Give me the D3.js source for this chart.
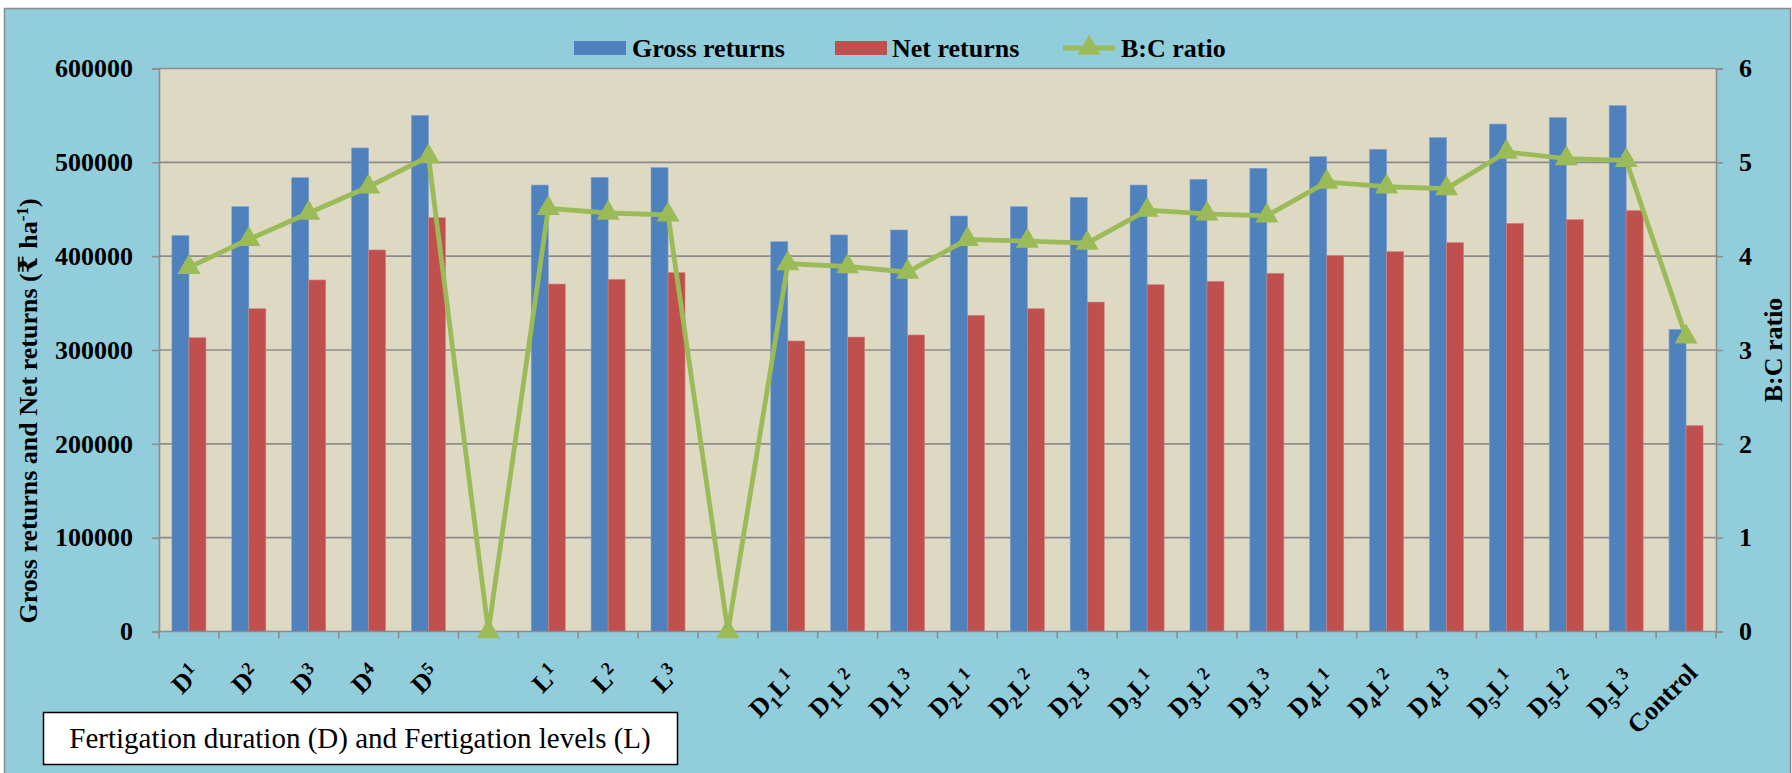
<!DOCTYPE html>
<html>
<head>
<meta charset="utf-8">
<script src="https://cdn.jsdelivr.net/npm/d3@7"></script>
<style>
  body { margin: 0; background: #fff; }
  svg { display: block; }
  text { font-family: "Liberation Serif", "Times New Roman", "DejaVu Serif", serif; }
</style>
</head>
<body>
<svg id="chart"></svg>
<script>
// categories on the x axis ("" = empty slot in the original chart)
const categories = ["D1", "D2", "D3", "D4", "D5", "", "L1", "L2", "L3", "",
    "D1L1", "D1L2", "D1L3", "D2L1", "D2L2", "D2L3", "D3L1", "D3L2", "D3L3",
    "D4L1", "D4L2", "D4L3", "D5L1", "D5L2", "D5L3", "Control"];

const grossReturns = [422000, 452700, 483600, 515300, 550000, null, 475800, 484000, 494300, null,
    415400, 422600, 427900, 442800, 452700, 462700, 475800, 481900, 493600,
    506000, 513900, 526300, 540800, 547600, 560400, 322000];

const netReturns = [313100, 344000, 374600, 406600, 441000, null, 370300, 375300, 382400, null,
    309600, 313800, 316000, 337000, 344000, 351100, 369600, 373200, 381700,
    400500, 404800, 414400, 435000, 438900, 448500, 219400];

const bcRatio = [3.88, 4.18, 4.46, 4.74, 5.06, 0, 4.51, 4.46, 4.44, 0,
    3.92, 3.89, 3.83, 4.18, 4.16, 4.14, 4.49, 4.45, 4.43,
    4.79, 4.74, 4.72, 5.11, 5.04, 5.02, 3.14];

const leftTicks = [0, 100000, 200000, 300000, 400000, 500000, 600000];
const rightTicks = [0, 1, 2, 3, 4, 5, 6];

const W = 1792, H = 773;
const plot = { left: 159, right: 1716, top: 68.5, bottom: 631.5 };

const colors = {
    gross: "#4F81BD",
    net: "#C0504D",
    bc: "#9BBB59",
    chartBg: "#92CDDC",
    plotBg: "#DDD9C3",
    grid: "#8C8C8C"
};

const svg = d3.select("#chart").attr("width", W).attr("height", H);

// chart area background + frame
svg.append("rect")
    .attr("x", 4.5).attr("y", 8.5)
    .attr("width", 1786).attr("height", 780)
    .attr("fill", colors.chartBg)
    .attr("stroke", "#8a8a8a").attr("stroke-width", 1.5);

svg.append("rect")
    .attr("x", plot.left).attr("y", plot.top)
    .attr("width", plot.right - plot.left).attr("height", plot.bottom - plot.top)
    .attr("fill", colors.plotBg);

// scales
const x = d3.scaleBand()
    .domain(d3.range(categories.length))
    .range([plot.left, plot.right])
    .paddingInner(0.432)
    .paddingOuter(0.216);

const xSeries = d3.scaleBand()
    .domain(["gross", "net"])
    .range([0, x.bandwidth()]);

const y = d3.scaleLinear().domain([0, 600000]).range([plot.bottom, plot.top]);
const y2 = d3.scaleLinear().domain([0, 6]).range([plot.bottom, plot.top]);

const center = i => x(i) + x.bandwidth() / 2;

// gridlines
svg.append("g")
    .selectAll("line")
    .data(leftTicks.slice(1))
    .enter().append("line")
    .attr("x1", plot.left).attr("x2", plot.right)
    .attr("y1", d => y(d)).attr("y2", d => y(d))
    .attr("stroke", colors.grid).attr("stroke-width", 1.6);

// bars
const barData = [];
categories.forEach((c, i) => {
    if (grossReturns[i] != null) barData.push({ i, key: "gross", v: grossReturns[i] });
    if (netReturns[i] != null) barData.push({ i, key: "net", v: netReturns[i] });
});

svg.append("g")
    .selectAll("rect")
    .data(barData)
    .enter().append("rect")
    .attr("x", d => x(d.i) + xSeries(d.key))
    .attr("y", d => y(d.v))
    .attr("width", xSeries.bandwidth())
    .attr("height", d => y(0) - y(d.v))
    .attr("fill", d => colors[d.key])
    .attr("stroke", d => d.key === "gross" ? "#7d9fd0" : "#d08280")
    .attr("stroke-width", 0.6);

// axes
const axisStyle = g => {
    g.select(".domain").attr("stroke", colors.grid).attr("stroke-width", 1.6);
    g.selectAll(".tick line").attr("stroke", colors.grid).attr("stroke-width", 1.6);
    g.selectAll("text")
        .attr("font-size", 26).attr("font-weight", "bold").attr("fill", "#000")
        .attr("font-family", "'Liberation Serif', 'Times New Roman', serif");
};

svg.append("g")
    .attr("transform", `translate(${plot.left},0)`)
    .call(d3.axisLeft(y).tickValues(leftTicks).tickFormat(d3.format("d")).tickSizeOuter(0).tickSize(7).tickPadding(19))
    .call(axisStyle);

svg.append("g")
    .attr("transform", `translate(${plot.right},0)`)
    .call(d3.axisRight(y2).tickValues(rightTicks).tickFormat(d3.format("d")).tickSizeOuter(0).tickSize(7).tickPadding(16))
    .call(axisStyle);

// bottom axis: ticks at category boundaries
const step = x.step();
const boundaries = d3.range(categories.length + 1).map(i => plot.left + i * step);
const xAxis = svg.append("g");
xAxis.append("line")
    .attr("x1", plot.left).attr("x2", plot.right)
    .attr("y1", plot.bottom).attr("y2", plot.bottom)
    .attr("stroke", colors.grid).attr("stroke-width", 1.6);
xAxis.selectAll("line.tick")
    .data(boundaries)
    .enter().append("line")
    .attr("class", "tick")
    .attr("x1", d => d).attr("x2", d => d)
    .attr("y1", plot.bottom).attr("y2", plot.bottom + 7)
    .attr("stroke", colors.grid).attr("stroke-width", 1.6);

// x labels, rotated, with sub/superscripts
function labelParts(s) {
    if (s.length === 2) return [{ t: s[0] }, { t: s[1], shift: "sup" }];
    if (s.length === 4) return [{ t: s[0] }, { t: s[1], shift: "sub" }, { t: s[2] }, { t: s[3], shift: "sup" }];
    return [{ t: s }];
}

categories.forEach((c, i) => {
    if (!c) return;
    const g = svg.append("g");
    const t = g.append("text")
        .attr("transform", "rotate(-45)")
        .attr("text-anchor", "end")
        .attr("font-size", 26)
        .attr("font-weight", "bold");
    let off = 0;
    labelParts(c).forEach(p => {
        const target = p.shift === "sup" ? -9 : p.shift === "sub" ? 6 : 0;
        t.append("tspan")
            .attr("dy", target - off)
            .attr("font-size", p.shift ? 18 : 26)
            .text(p.t);
        off = target;
    });
    // place so the top-right corner of the rotated label sits just right of the tick
    const bb = g.node().getBBox();
    const top = c.length === 4 ? 663 : 658;
    g.attr("transform", `translate(${center(i) + 17 - (bb.x + bb.width)},${top - bb.y})`);
});

// B:C ratio line
const line = d3.line()
    .x((d, i) => center(i))
    .y(d => y2(d));

svg.append("path")
    .datum(bcRatio)
    .attr("d", line)
    .attr("fill", "none")
    .attr("stroke", colors.bc)
    .attr("stroke-width", 4.8)
    .attr("stroke-linejoin", "round");

const tri = d3.symbol().type(d3.symbolTriangle).size(230);
svg.append("g")
    .selectAll("path")
    .data(bcRatio)
    .enter().append("path")
    .attr("d", tri)
    .attr("transform", (d, i) => `translate(${center(i)},${y2(d)})`)
    .attr("fill", colors.bc);

// axis titles
const leftTitle = svg.append("text")
    .attr("transform", "translate(37,411) rotate(-90)")
    .attr("text-anchor", "middle")
    .attr("font-size", 26)
    .attr("font-weight", "bold");
leftTitle.append("tspan").text("Gross returns and Net returns (\u20B9 ha");
leftTitle.append("tspan").attr("font-size", 17).attr("dy", -9).text("-1");
leftTitle.append("tspan").attr("dy", 9).text(")");

svg.append("text")
    .attr("transform", "translate(1782,350) rotate(-90)")
    .attr("text-anchor", "middle")
    .attr("font-size", 26)
    .attr("font-weight", "bold")
    .text("B:C ratio");

// legend
const legendY = 48;
const legend = svg.append("g").attr("font-size", 26).attr("font-weight", "bold");
legend.append("rect").attr("x", 574).attr("y", legendY - 7).attr("width", 52).attr("height", 14).attr("fill", colors.gross);
legend.append("text").attr("x", 632).attr("y", legendY).attr("dy", "0.35em").text("Gross returns");
legend.append("rect").attr("x", 835).attr("y", legendY - 7).attr("width", 52).attr("height", 14).attr("fill", colors.net);
legend.append("text").attr("x", 892).attr("y", legendY).attr("dy", "0.35em").text("Net returns");
legend.append("line").attr("x1", 1063).attr("x2", 1115).attr("y1", legendY).attr("y2", legendY)
    .attr("stroke", colors.bc).attr("stroke-width", 4.8);
legend.append("path").attr("d", tri).attr("transform", `translate(1089,${legendY})`).attr("fill", colors.bc);
legend.append("text").attr("x", 1121).attr("y", legendY).attr("dy", "0.35em").text("B:C ratio");

// x axis caption box
svg.append("rect")
    .attr("x", 43.5).attr("y", 712.5)
    .attr("width", 634).attr("height", 52)
    .attr("fill", "#fff")
    .attr("stroke", "#000").attr("stroke-width", 1.5);
svg.append("text")
    .attr("x", 360).attr("y", 738)
    .attr("dy", "0.35em")
    .attr("text-anchor", "middle")
    .attr("font-size", 29)
    .text("Fertigation duration (D) and Fertigation levels (L)");
</script>
</body>
</html>
